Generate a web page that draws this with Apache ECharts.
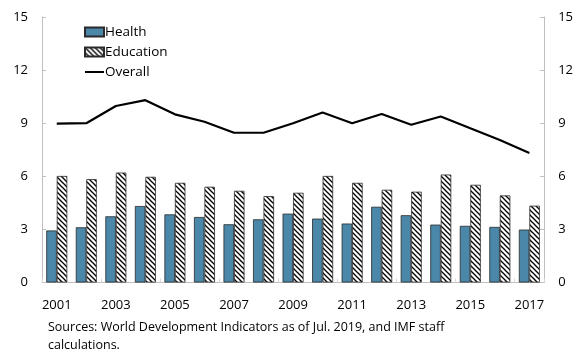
<!DOCTYPE html>
<html><head><meta charset="utf-8">
<script src="https://cdn.jsdelivr.net/npm/echarts@6/dist/echarts.min.js"></script>
<style>html,body{margin:0;padding:0;background:#fff}#c{width:576px;height:356px}</style>
</head><body><div id="c"></div>
<script>
var years = ['2001','2002','2003','2004','2005','2006','2007','2008','2009','2010','2011','2012','2013','2014','2015','2016','2017'];
var health = [2.94,3.12,3.74,4.32,3.85,3.70,3.29,3.57,3.89,3.61,3.33,4.28,3.80,3.27,3.20,3.14,2.99];
var education = [6.02,5.84,6.21,5.97,5.63,5.41,5.18,4.88,5.07,6.02,5.63,5.24,5.13,6.10,5.52,4.92,4.34];
var overall = [8.98,9.0,9.97,10.3,9.5,9.08,8.46,8.46,9.0,9.6,9.0,9.52,8.91,9.38,8.71,8.05,7.32];
var yTicks = [0,3,6,9,12,15];

function hatch(){
  var c=document.createElement('canvas'); c.width=5; c.height=5;
  var g=c.getContext('2d'); g.fillStyle='#fff'; g.fillRect(0,0,5,5);
  g.strokeStyle='#000'; g.lineWidth=1.3;
  g.beginPath(); g.moveTo(-1,-1); g.lineTo(6,6); g.stroke();
  g.beginPath(); g.moveTo(-1,4); g.lineTo(1,6); g.stroke();
  g.beginPath(); g.moveTo(4,-1); g.lineTo(6,1); g.stroke();
  return {image:c, repeat:'repeat'};
}
var font = '"Open Sans", "Noto Sans", sans-serif';
var chart = echarts.init(document.getElementById('c'), null, {renderer:'canvas'});
var yAxisCommon = {
  type:'value', min:0, max:15, interval:3,
  axisLine:{show:true, lineStyle:{color:'#bfbfbf'}},
  axisTick:{show:true, inside:true, length:4, lineStyle:{color:'#bfbfbf'}},
  splitLine:{show:false},
  axisLabel:{color:'#000', fontSize:13, fontFamily:font, margin:14}
};
chart.setOption({
  animation:false,
  textStyle:{fontFamily:font},
  grid:{left:42, right:31, top:17, bottom:73.5, containLabel:false},
  legend:{
    orient:'vertical', left:79, top:20, itemGap:6, itemWidth:19, itemHeight:9,
    textStyle:{fontSize:13.5, color:'#000', fontFamily:font, padding:[0,0,0,-4]},
    data:[{name:'Health', icon:'rect'},{name:'Education', icon:'rect'},
          {name:'Overall', icon:'path://M0,0L19,0L19,2L0,2Z', itemStyle:{color:'#000'}}]
  },
  xAxis:{
    type:'category', data:years,
    axisLine:{lineStyle:{color:'#bfbfbf'}},
    axisTick:{show:true, inside:true, interval:1, length:4, lineStyle:{color:'#d9d9d9'}},
    axisLabel:{interval:1, color:'#000', fontSize:13, fontFamily:font, margin:16}
  },
  yAxis:[Object.assign({}, yAxisCommon, {position:'left'}),
         Object.assign({}, yAxisCommon, {position:'right'})],
  series:[
    {name:'Health', type:'bar', data:health, barWidth:10.5, barGap:'0%',
     itemStyle:{color:'#4a87a9', borderColor:'#2a2a2a', borderWidth:0.8}},
    {name:'Education', type:'bar', data:education, barWidth:10.5,
     itemStyle:{color:hatch(), borderColor:'#2a2a2a', borderWidth:0.8}},
    {name:'Overall', type:'line', data:overall, symbol:'none',
     lineStyle:{color:'#000', width:2.2}, itemStyle:{color:'#000'}}
  ],
  graphic:[
    {type:'text', left:48, top:318, style:{text:'Sources: World Development Indicators as of Jul. 2019, and IMF staff\ncalculations.', fontSize:12.5, lineHeight:18, fill:'#000', fontFamily:font}}
  ]
});
</script></body></html>
